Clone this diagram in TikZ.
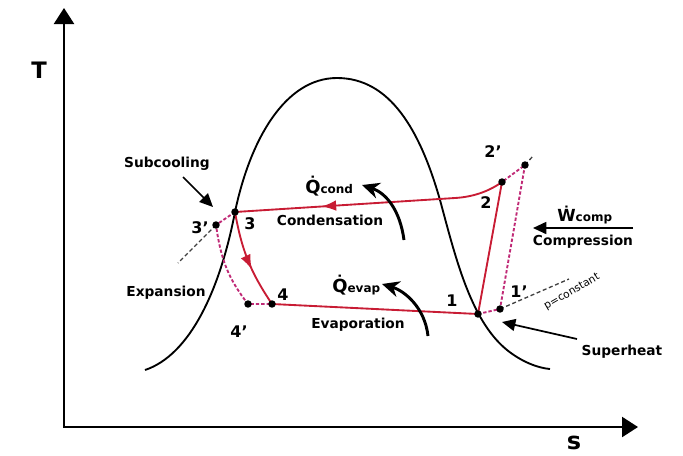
\documentclass[tikz,border=0pt]{standalone}
\usepackage{fontspec}
\setmainfont{DejaVu Sans}
\usetikzlibrary{arrows.meta,calc,decorations.markings}

\definecolor{cyclered}{RGB}{200,28,52}
\definecolor{idealpink}{RGB}{192,42,118}

\begin{document}
\begin{tikzpicture}[
    x=0.75pt, y=-0.75pt,
    axis/.style={line width=1.8pt, {Triangle[length=12pt,width=15pt]}-{Triangle[length=12pt,width=15pt]}},
    dome/.style={line width=1.4pt},
    cycleline/.style={line width=1.4pt, cyclered},
    idealline/.style={line width=1.4pt, idealpink, dash pattern=on 2.5pt off 1.5pt},
    isobar/.style={line width=1pt, black!75, dash pattern=on 3pt off 2pt},
    statept/.style={circle, fill=black, inner sep=0pt, minimum size=5.6pt},
    lbl/.style={font=\bfseries\fontsize{10.3}{12}\selectfont, inner sep=0pt},
    num/.style={font=\bfseries\fontsize{12}{14}\selectfont, inner sep=0pt},
    heat/.style={line width=2.2pt, -{Stealth[length=13pt,width=12pt]}},
    pointer/.style={line width=1.3pt, -{Triangle[length=10pt,width=9pt]}},
    midarrow/.style={postaction={decorate, decoration={markings,
        mark=at position #1 with {\arrow{Latex[length=11pt,width=8pt]}}}}}
]
    \useasboundingbox (0,0) rectangle (683,455);

    % Axes
    \coordinate (ytip) at (64,8);
    \coordinate (origin) at (64,427);
    \coordinate (xtip) at (638,427);
    \draw[axis] (ytip) -- (origin) -- (xtip);
    \node[font=\bfseries\fontsize{17}{20}\selectfont] (tlabel) at (39,70) {T};
    \node[font=\bfseries\fontsize{18}{20}\selectfont] (slabel) at (574,443) {s};

    % Saturation dome
    \draw[dome] (145,370) .. controls (190,355) and (220,290) .. (235,212)
        .. controls (250,140) and (285,78) .. (337,78)
        .. controls (390,78) and (420,130) .. (440,200)
        .. controls (455,255) and (470,320) .. (507,350)
        .. controls (522,362) and (538,368) .. (550,369);

    % States
    \coordinate (p1) at (478,314);
    \coordinate (p1i) at (500,309);
    \coordinate (p2) at (502,182);
    \coordinate (p2i) at (525,165);
    \coordinate (p3) at (235,212);
    \coordinate (p3i) at (216,225);
    \coordinate (p4) at (272,304);
    \coordinate (p4i) at (248,304);
    \coordinate (iso3) at (178,263);
    \coordinate (iso2) at (533,156);
    \coordinate (iso1) at (569,279);

    % Constant pressure lines
    \draw[isobar] (p3i) -- (iso3);
    \draw[isobar] (p2i) -- (iso2);
    \draw[isobar] (p1i) -- (iso1);

    % Ideal cycle
    \draw[idealline] (p3) -- (p3i) to[out=-82, in=128] (p4i) -- (p4);
    \draw[idealline] (p1) -- (p1i) -- (p2i) -- (p2);

    % Real cycle
    \draw[cycleline, midarrow=0.68] (p2) .. controls (488,192) and (472,197) .. (455,198) -- (p3);
    \draw[cycleline, midarrow=0.6] (p3) to[out=-80, in=124] (p4);
    \draw[cycleline] (p4) -- (p1) -- (p2);

    \foreach \p in {p1,p1i,p2,p2i,p3,p3i,p4,p4i}
        \node[statept] at (\p) {};

    % State numbers
    \node[num] (n1) at (452,301) {1};
    \node[num] (n1i) at (519,292) {1'};
    \node[num] (n2) at (486,203) {2};
    \node[num] (n2i) at (493,152) {2'};
    \node[num] (n3) at (250,224) {3};
    \node[num] (n3i) at (200,228) {3'};
    \node[num] (n4) at (283,295) {4};
    \node[num] (n4i) at (239,332) {4'};

    % Process labels
    \node[lbl] (subcool) at (167,164) {Subcooling};
    \node[lbl] (expansion) at (166,293) {Expansion};
    \node[lbl] (condensation) at (330,220) {Condensation};
    \node[lbl] (evaporation) at (358,325) {Evaporation};
    \node[lbl] (compression) at (583,242) {Compression};
    \node[lbl] (superheat) at (622,352) {Superheat};
    \node[font=\fontsize{8}{9}\selectfont, inner sep=0pt, rotate=30] (pconst) at (572,292) {p=constant};

    \node[anchor=base west, inner sep=0pt, font=\bfseries] (qcond) at (305,193)
        {\fontsize{13.5}{15}\selectfont\.{Q}\fontsize{9}{10}\selectfont cond};
    \node[anchor=base west, inner sep=0pt, font=\bfseries] (qevap) at (332,292)
        {\fontsize{13.5}{15}\selectfont\.{Q}\fontsize{9}{10}\selectfont evap};
    \node[anchor=base west, inner sep=0pt, font=\bfseries] (wcomp) at (557,221)
        {\fontsize{12.5}{15}\selectfont\.{W}\fontsize{9}{10}\selectfont comp};

    % Heat and work arrows
    \coordinate (qc0) at (404,240);
    \coordinate (qc1) at (362,185);
    \coordinate (qe0) at (428,336);
    \coordinate (qe1) at (382,284);
    \draw[heat] (qc0) .. controls (400,210) and (386,193) .. (qc1);
    \draw[heat] (qe0) .. controls (425,308) and (405,291) .. (qe1);

    \coordinate (wc0) at (633,228);
    \coordinate (wc1) at (533,228);
    \coordinate (sc0) at (183,177);
    \coordinate (sc1) at (213,207);
    \coordinate (sh0) at (577,339);
    \coordinate (sh1) at (502,322);
    \draw[pointer] (wc0) -- (wc1);
    \draw[pointer] (sc0) -- (sc1);
    \draw[pointer] (sh0) -- (sh1);

\end{tikzpicture}
\end{document}
